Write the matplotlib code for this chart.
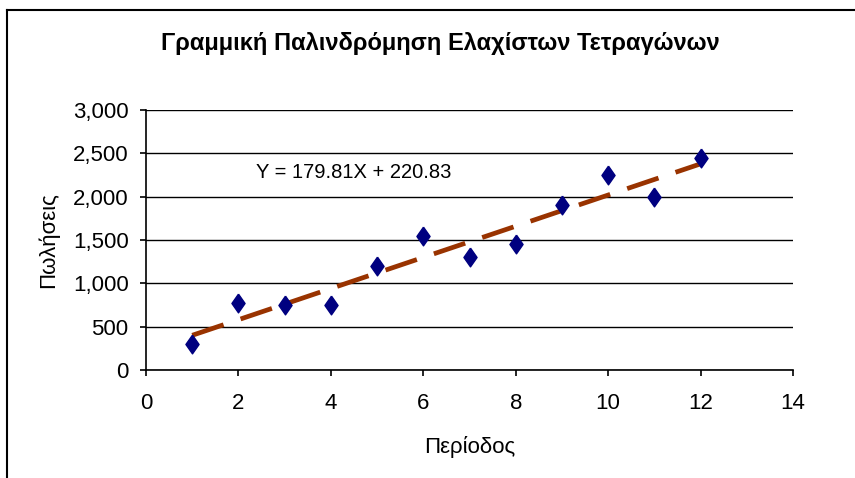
# Least squares linear regression chart (Excel-style)
import matplotlib
matplotlib.use('Agg')
import matplotlib.pyplot as plt
from matplotlib.lines import Line2D
from matplotlib.ticker import FuncFormatter

plt.rcParams['font.family'] = ['Liberation Sans', 'DejaVu Sans']

# Data
periods = [1, 2, 3, 4, 5, 6, 7, 8, 9, 10, 11, 12]
sales = [300, 775, 750, 750, 1200, 1550, 1300, 1450, 1900, 2250, 2000, 2450]
slope = 179.81
intercept = 220.83

fig = plt.figure(figsize=(8.55, 4.78), dpi=100)
ax = fig.add_axes([0.1708, 0.2259, 0.7567, 0.544])

# Trend line
trend_x = [periods[0], periods[-1]]
trend_y = [slope * x + intercept for x in trend_x]
ax.plot(trend_x, trend_y, color='#993300', lw=3.4, dashes=(7, 3.8), zorder=2)

# Points (Excel style diamond, a bit narrower than tall)
diamond = [(0, 1), (0.7, 0), (0, -1), (-0.7, 0), (0, 1)]
ax.plot(periods, sales, linestyle='none', marker=diamond, ms=13.5,
        color='#000080', zorder=3)

ax.text(4.5, 2275, 'Y = 179.81X + 220.83', fontsize=14.5, ha='center', va='center')

# Axes format
ax.set_xlim(0, 14)
ax.set_ylim(0, 3000)
ax.set_xticks(range(0, 15, 2))
ax.set_yticks(range(0, 3001, 500))
ax.yaxis.set_major_formatter(FuncFormatter(lambda v, p: '{:,.0f}'.format(v)))
ax.grid(axis='y', color='black', lw=1)
ax.set_axisbelow(True)
for s in ['top', 'right']:
    ax.spines[s].set_visible(False)
for s in ['left', 'bottom']:
    ax.spines[s].set_linewidth(1.2)
ax.tick_params(direction='out', length=4.5, width=1.2, labelsize=16)
ax.tick_params(axis='x', pad=12)
ax.tick_params(axis='y', pad=8)

fig.text(0.515, 0.91, 'Γραμμική Παλινδρόμηση Ελαχίστων Τετραγώνων',
         fontsize=17, fontweight='bold', ha='center', va='center')
ax.set_xlabel('Περίοδος', fontsize=16, labelpad=16)
ax.set_ylabel('Πωλήσεις', fontsize=16, labelpad=10)

# Chart frame (top and left only, as in the original)
fig.add_artist(Line2D([0.008, 1.0], [0.979, 0.979], color='black', lw=1.5,
                      transform=fig.transFigure))
fig.add_artist(Line2D([0.008, 0.008], [0.0, 0.979], color='black', lw=1.5,
                      transform=fig.transFigure))

fig.savefig('out.png', dpi=100)
